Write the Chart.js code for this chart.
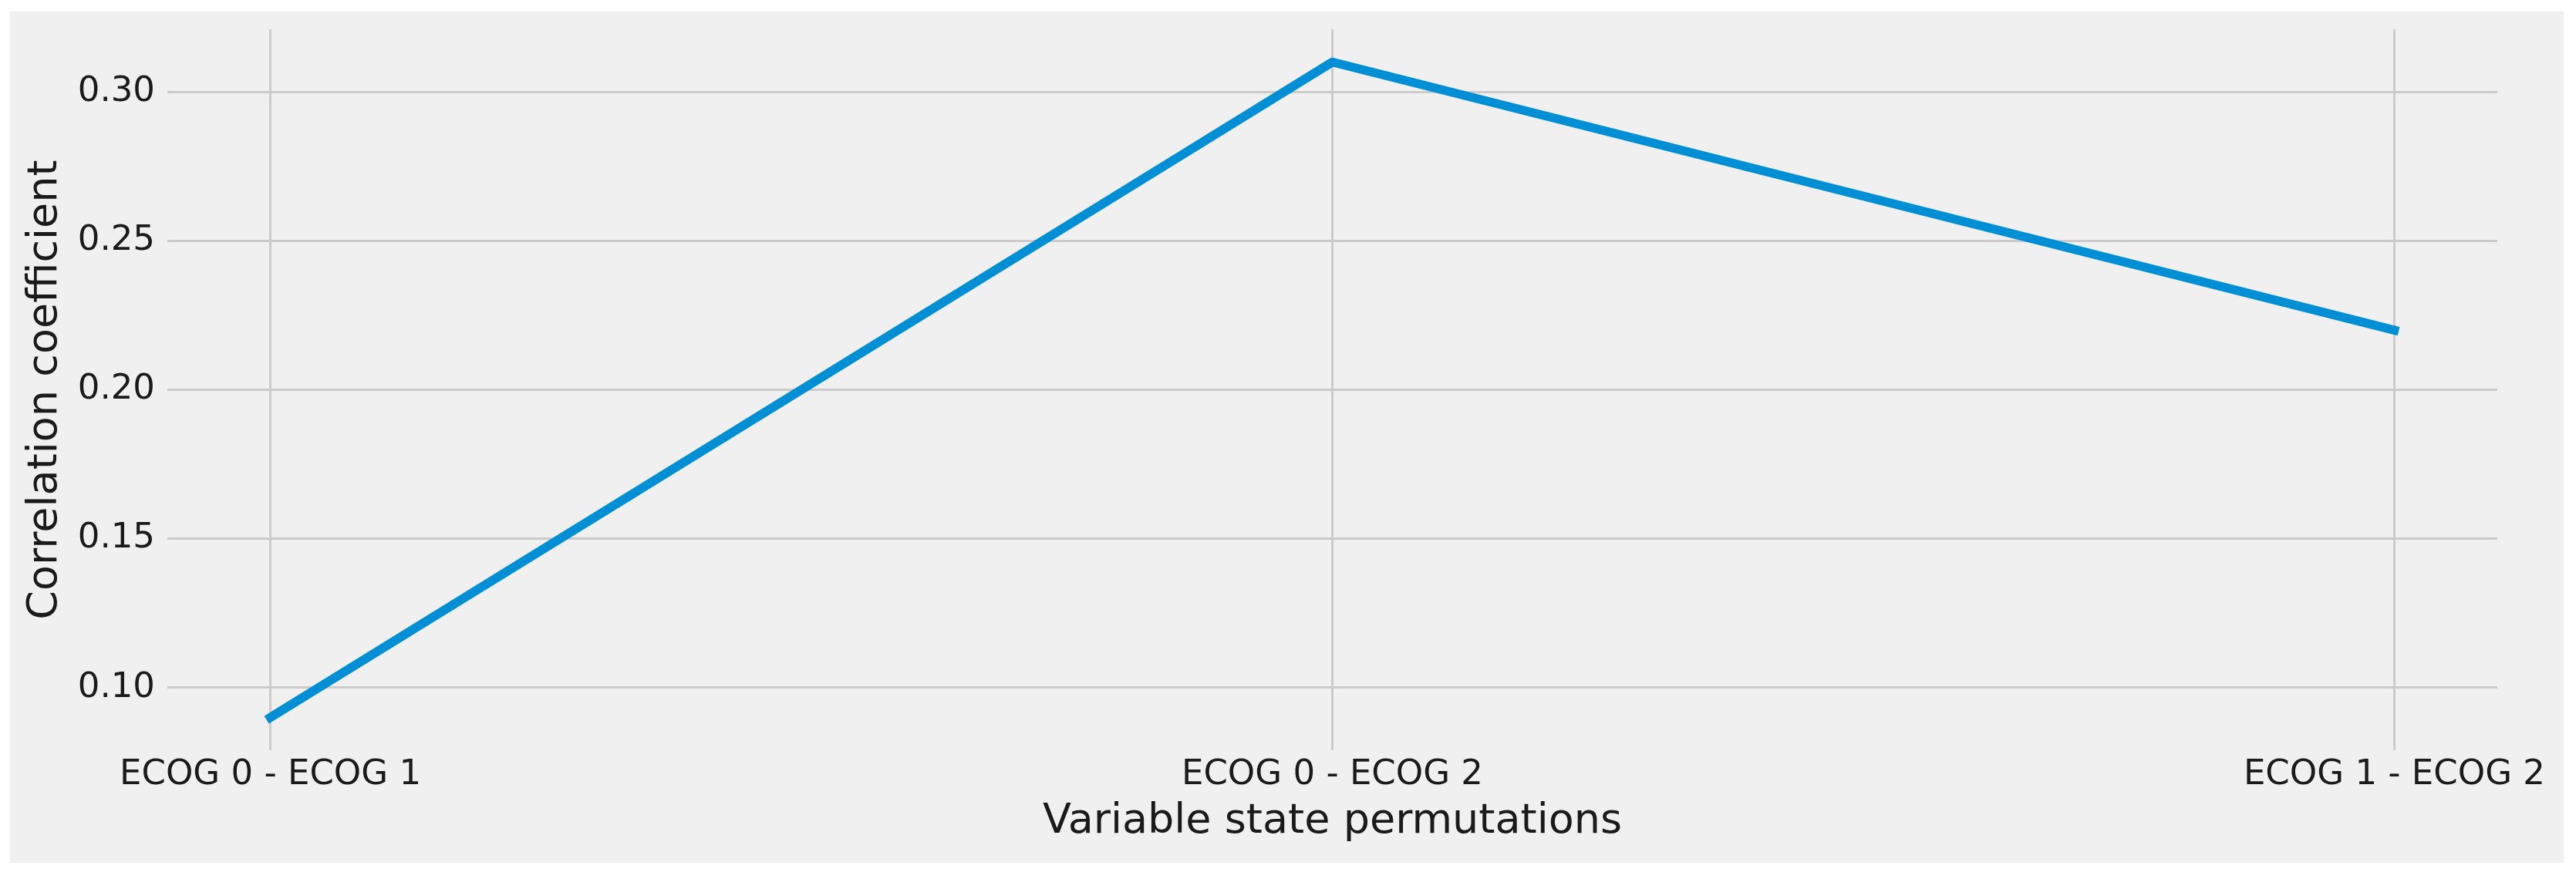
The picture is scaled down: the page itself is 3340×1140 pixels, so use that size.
<!DOCTYPE html>
<html>
<head>
<meta charset="utf-8">
<title>Correlation coefficient by variable state permutation</title>
<script src="https://cdn.jsdelivr.net/npm/chart.js"></script>
<style>
	html, body {
		margin: 0;
		padding: 0;
		background: #ffffff;
	}
	.wrapper-korelasi {
		position: absolute;
		left: 13px;
		top: 15px;
		width: 3311px;
		height: 1104px;
		background: #f0f0f0;
	}
</style>
</head>
<body>
<div class="wrapper-korelasi">
	<canvas id="korelasi-line-chart"></canvas>
</div>
<script>
// data
var kategori = ["ECOG 0 - ECOG 1", "ECOG 0 - ECOG 2", "ECOG 1 - ECOG 2"];
var koefisien = [0.09, 0.31, 0.22];
var yTicks = [0.10, 0.15, 0.20, 0.25, 0.30];

var COLOR_LINE = "#008fd5";
var COLOR_GRID = "#cbcbcb";
var COLOR_TEXT = "#1a1a1a";

Chart.defaults.font.family = "'DejaVu Sans', sans-serif";
Chart.defaults.color = COLOR_TEXT;

var handleKorelasiChart = function () {
	const ctx = document.getElementById("korelasi-line-chart").getContext("2d");

	var titik = [];
	for (var i = 0; i < koefisien.length; i++) {
		titik.push({ x: i, y: koefisien[i] });
	}

	var datany = {
		datasets: [
			{
				label: "Correlation coefficient",
				data: titik,
				borderColor: COLOR_LINE,
				borderWidth: 11.5,
				borderJoinStyle: "round",
				borderCapStyle: "square",
				pointRadius: 0,
				tension: 0,
				fill: false,
			},
		],
	};

	const myChart = new Chart(ctx, {
		type: "line",
		data: datany,
		options: {
			responsive: true,
			maintainAspectRatio: false,
			animation: false,
			layout: {
				padding: { top: 23, right: 86, bottom: 0, left: 0 },
			},
			plugins: {
				legend: { display: false },
				tooltip: { enabled: false },
			},
			scales: {
				x: {
					type: "linear",
					min: -0.097,
					max: 2.097,
					afterBuildTicks: function (axis) {
						axis.ticks = kategori.map(function (k, idx) {
							return { value: idx };
						});
					},
					afterFit: function (scale) {
						// tinggi sumbu dikunci biar area plot sama dengan gambar
						scale.height = 146;
						scale.paddingLeft = 0;
						scale.paddingRight = 0;
					},
					ticks: {
						autoSkip: false,
						maxRotation: 0,
						padding: 5,
						font: { size: 45 },
						callback: function (value) {
							return kategori[value];
						},
					},
					grid: {
						color: COLOR_GRID,
						lineWidth: 3,
						drawTicks: false,
					},
					border: { display: false },
					title: {
						display: true,
						text: "Variable state permutations",
						font: { size: 54 },
						padding: { top: 0, bottom: 21 },
					},
				},
				y: {
					min: 0.079,
					max: 0.321,
					afterBuildTicks: function (axis) {
						axis.ticks = yTicks.map(function (v) {
							return { value: v };
						});
					},
					afterFit: function (scale) {
						scale.width = 204;
						scale.paddingTop = 0;
						scale.paddingBottom = 0;
					},
					ticks: {
						padding: 16,
						font: { size: 45 },
						callback: function (value) {
							return Number(value).toFixed(2);
						},
					},
					grid: {
						color: COLOR_GRID,
						lineWidth: 3,
						drawTicks: false,
					},
					border: { display: false },
					title: {
						display: true,
						text: "Correlation coefficient",
						font: { size: 54 },
						padding: { top: 14, bottom: 0 },
					},
				},
			},
		},
	});

	return myChart;
};

document.addEventListener("DOMContentLoaded", function () {
	handleKorelasiChart();
});
</script>
</body>
</html>
